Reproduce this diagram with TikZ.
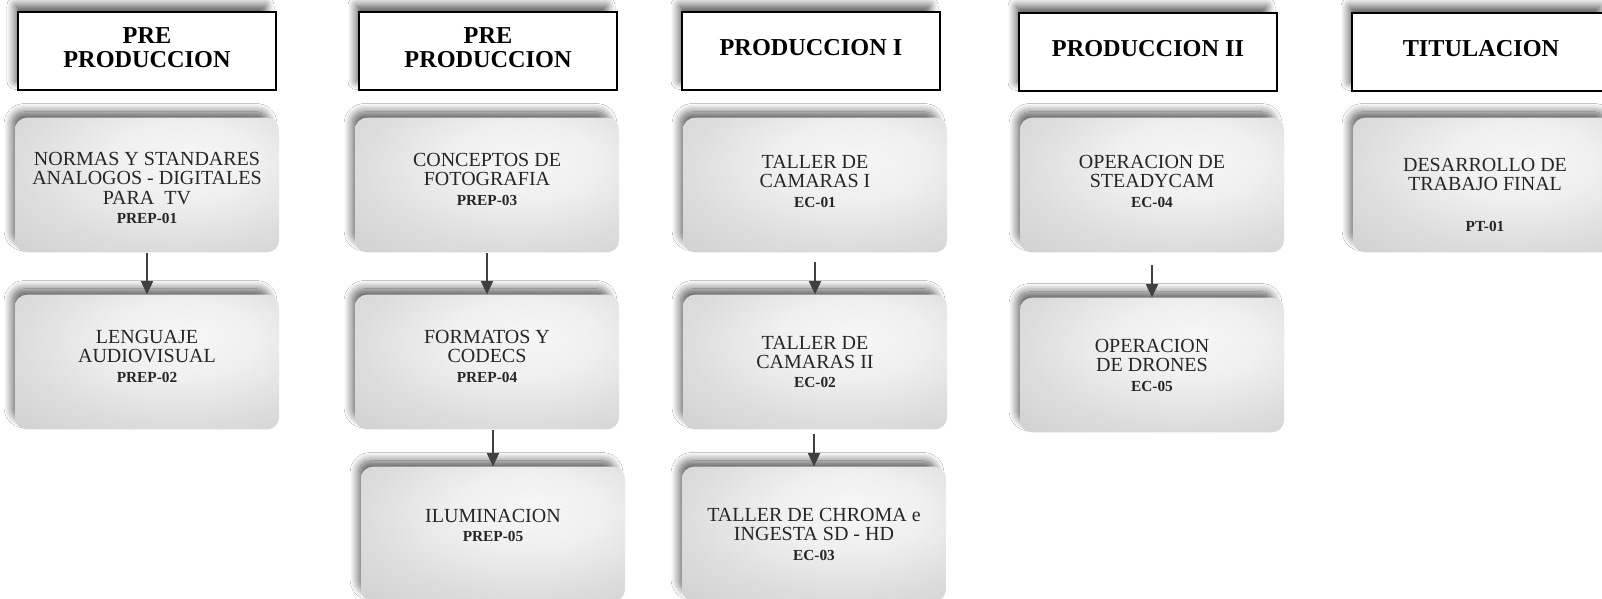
\documentclass[tikz,border=0pt]{standalone}
\usepackage{fontspec}
\setmainfont{Liberation Serif}
\usepackage{tikz}
\usetikzlibrary{positioning, arrows.meta, shadows.blur}

\pgfdeclareradialshading{boxshade}{\pgfpoint{8bp}{10bp}}{color(0bp)=(gray!7); color(14bp)=(gray!12); color(30bp)=(gray!27); color(48bp)=(gray!40); color(70bp)=(gray!50); color(100bp)=(gray!55)}
\newcommand{\ccode}[1]{{\fontsize{11.5}{12}\selectfont\bfseries #1}}
\newcommand{\pushup}[1]{\rule[-#1]{0pt}{0pt}}
\newcommand{\pushdown}[1]{\rule{0pt}{#1}}

\begin{document}
\begin{tikzpicture}[
    x=0.75pt, y=-0.75pt,
    headbox/.style={rectangle, draw, line width=1.5pt, fill=white, minimum width=193.5pt, minimum height=58.5pt, align=center, font=\fontsize{18.2}{18}\selectfont\bfseries, execute at end node={\pushup{5pt}}, blur shadow={shadow xshift=-5pt, shadow yshift=6pt, shadow scale=0.97, shadow blur radius=6.5pt, shadow blur steps=12, shadow opacity=70}},
    coursebox/.style={rectangle, rounded corners=9pt, shading=boxshade, minimum width=198pt, minimum height=101pt, align=center, font=\fontsize{15}{14.6}\selectfont, text=black!85, blur shadow={shadow xshift=-5pt, shadow yshift=6pt, shadow scale=0.97, shadow blur radius=6.5pt, shadow blur steps=12, shadow opacity=65}},
    arrow/.style={-{Triangle[width=9pt,length=10pt]}, line width=1.3pt, black!75}
]
    \clip (0,0) rectangle (1602,599);
    \fill[white] (0,0) rectangle (1602,599);

    % Headers
    \node [headbox] (h1) at (147, 51) {PRE\\PRODUCCION};
    \node [headbox] (h2) at (488, 51) {PRE\\PRODUCCION};
    \node [headbox] (h3) at (811, 51) {PRODUCCION I};
    \node [headbox] (h4) at (1148, 52) {PRODUCCION II};
    \node [headbox] (h5) at (1481, 52) {TITULACION};

    % Column 1
    \node [coursebox] (prep1) at (147, 185) {\pushdown{14.6pt}NORMAS Y STANDARES\\ANALOGOS - DIGITALES\\PARA\ \ TV\\\ccode{PREP-01}};
    \node [coursebox] (prep2) at (147, 362) {LENGUAJE\\AUDIOVISUAL\\\ccode{PREP-02}\pushup{9pt}};

    % Column 2
    \node [coursebox] (prep3) at (487, 185) {CONCEPTOS DE\\FOTOGRAFIA\\\ccode{PREP-03}\pushup{9pt}};
    \node [coursebox] (prep4) at (487, 362) {FORMATOS Y\\CODECS\\\ccode{PREP-04}\pushup{9pt}};
    \node [coursebox] (prep5) at (493, 534) {ILUMINACION\\\ccode{PREP-05}\pushup{13pt}};

    % Column 3
    \node [coursebox] (ec1) at (815, 185) {TALLER DE\\CAMARAS I\\\ccode{EC-01}\pushup{5.5pt}};
    \node [coursebox] (ec2) at (815, 362) {TALLER DE\\CAMARAS II\\\ccode{EC-02}};
    \node [coursebox] (ec3) at (814, 534) {TALLER DE CHROMA e\\INGESTA SD - HD\\\ccode{EC-03}};

    % Column 4
    \node [coursebox] (ec4) at (1152, 185) {OPERACION DE\\STEADYCAM\\\ccode{EC-04}\pushup{5.5pt}};
    \node [coursebox] (ec5) at (1152, 365) {OPERACION\\DE DRONES\\\ccode{EC-05}};

    % Column 5
    \node [coursebox] (pt1) at (1485, 185) {\pushdown{25pt}DESARROLLO DE\\TRABAJO FINAL\\[16pt]\ccode{PT-01}};

    % Arrows
    \draw [arrow] (prep1.south) -- (prep2.north);
    \draw [arrow] (prep3.south) -- (prep4.north);
    \draw [arrow] (prep4.south -| prep5.north) -- (prep5.north);
    \draw [arrow, shorten <=7pt] (ec1.south) -- (ec2.north);
    \draw [arrow, shorten <=3pt] (ec2.south -| ec3.north) -- (ec3.north);
    \draw [arrow, shorten <=9pt] (ec4.south) -- (ec5.north);

\end{tikzpicture}
\end{document}
